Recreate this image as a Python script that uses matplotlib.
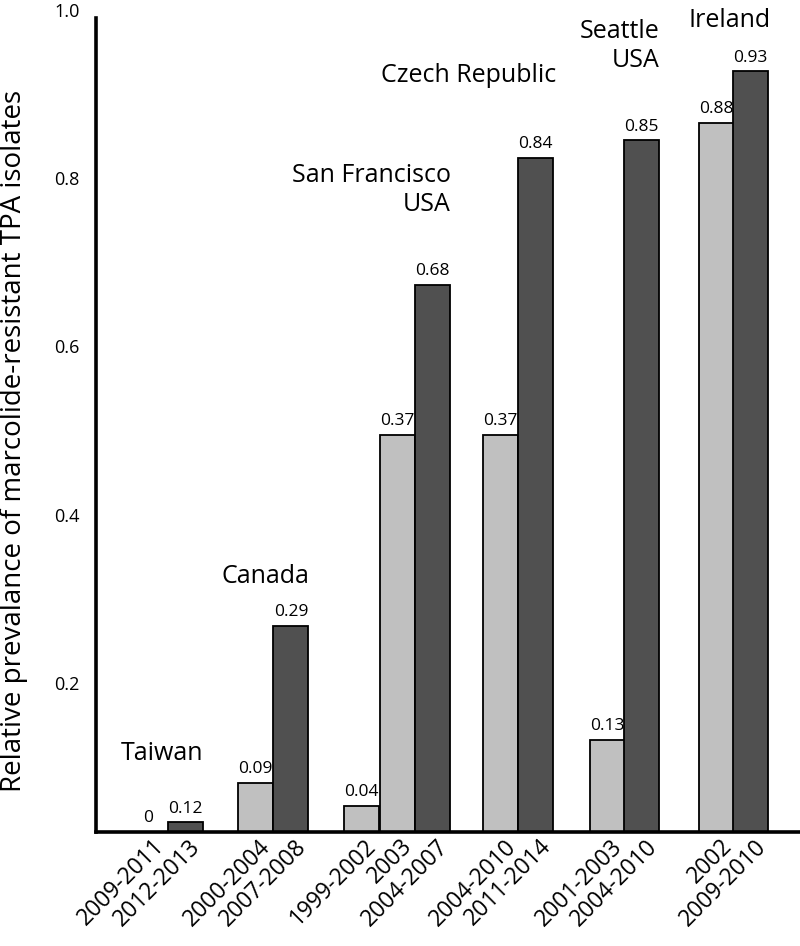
import matplotlib.pyplot as plt
import matplotlib.transforms as mtransforms

# --- data ---
periods = ["2009-2011", "2012-2013",
           "2000-2004", "2007-2008",
           "1999-2002", "2003", "2004-2007",
           "2004-2010", "2011-2014",
           "2001-2003", "2004-2010",
           "2002", "2009-2010"]
# printed values above the bars
value_labels = ["0", "0.12", "0.09", "0.29", "0.04", "0.37", "0.68",
                "0.37", "0.84", "0.13", "0.85", "0.88", "0.93"]
# bar heights as drawn in the figure (y-axis scale)
heights = [0.0, 0.034, 0.081, 0.268, 0.054, 0.495, 0.673,
           0.495, 0.824, 0.132, 0.845, 0.866, 0.927]
shade = ["light", "dark", "light", "dark", "light", "light", "dark",
         "light", "dark", "light", "dark", "light", "dark"]

regions = ["Taiwan", "Canada", "San Francisco\nUSA", "Czech Republic",
           "Seattle\nUSA", "Ireland"]

# bar positions (units of one bar width)
xpos = [1.5, 2.55, 4.55, 5.57, 7.57, 8.6, 9.62, 11.55, 12.55, 14.6, 15.58, 17.72, 18.7]

colors = {"light": "#c0c0c0", "dark": "#505050"}

plt.rcParams['font.family'] = ['Open Sans', 'DejaVu Sans']

fig = plt.figure(figsize=(8, 9.46), dpi=100)
ax = fig.add_axes([0.12, 0.1205, 0.88, 0.8689])

ylow = 0.0226
ax.set_xlim(0, 20.11)
ax.set_ylim(ylow, 1.0)

ax.bar(xpos, heights, width=1.0, color=[colors[s] for s in shade],
       edgecolor="black", linewidth=1.3, zorder=2)

for x, h, lab in zip(xpos, heights, value_labels):
    ax.annotate(lab, (x, max(h, ylow)), xytext=(0, 4), textcoords="offset points",
                ha="center", va="bottom", fontsize=12.5)

# region names
reg_pos = [(1.89, 0.108, "center"), (4.83, 0.319, "center"), (10.14, 0.761, "right"),
           (10.63, 0.914, "center"), (16.11, 0.932, "right"), (18.11, 0.98, "center")]
for name, (x, y, ha) in zip(regions, reg_pos):
    ax.text(x, y, name, ha=ha, va="baseline", fontsize=18, linespacing=1.2,
            multialignment="right")

# axes styling
for side in ["top", "right"]:
    ax.spines[side].set_visible(False)
ax.spines["left"].set_linewidth(2.6)
ax.spines["bottom"].set_linewidth(2.6)
ax.spines["left"].set_bounds(ylow, 0.99)

ax.set_yticks([0.2, 0.4, 0.6, 0.8, 1.0], ["0.2", "0.4", "0.6", "0.8", "1.0"])
ax.tick_params(axis="y", length=0, pad=12, labelsize=13)
ax.set_xticks(xpos, periods, rotation=45, ha="right", va="center",
              rotation_mode="anchor", fontsize=16.5)
ax.tick_params(axis="x", length=0, pad=8)
shift = mtransforms.ScaledTranslation(12 / 100, 0, fig.dpi_scale_trans)
for t in ax.get_xticklabels():
    t.set_transform(t.get_transform() + shift)

ax.set_ylabel("Relative prevalance of marcolide-resistant TPA isolates",
              fontsize=20)
ax.yaxis.set_label_coords(-0.097, 0.476)

fig.savefig("out.png", dpi=100)
